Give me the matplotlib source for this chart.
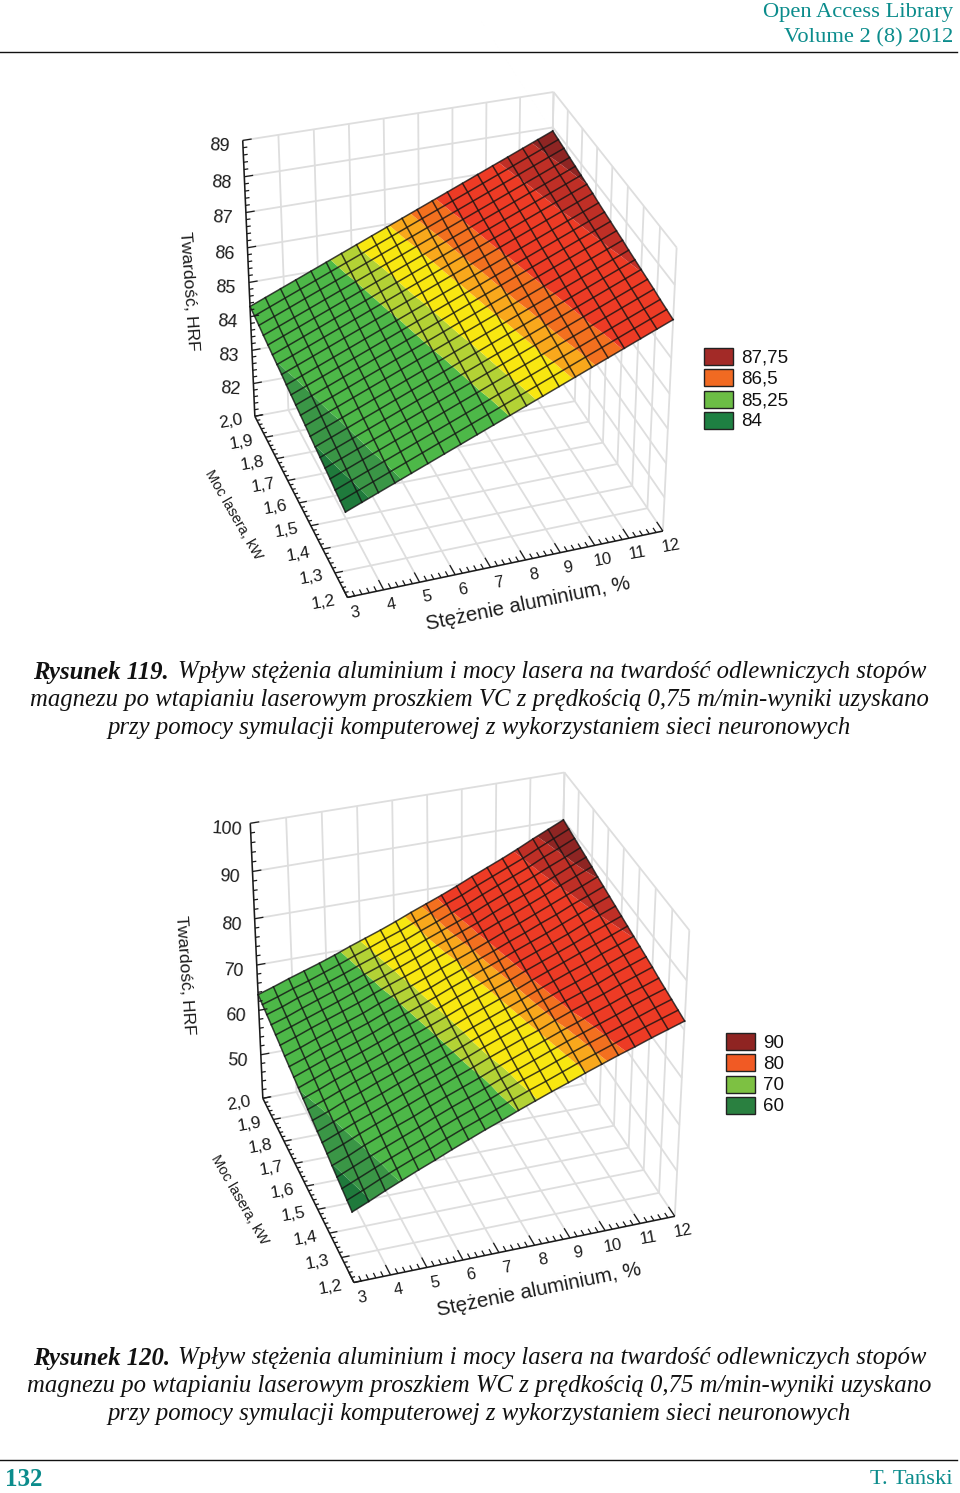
import numpy as np
import matplotlib
matplotlib.use('Agg')
import matplotlib.pyplot as plt
from matplotlib.patches import Rectangle

# mesh nodes of both surfaces
x_nodes = [3, 3.45, 3.9, 4.35, 4.8, 5.25, 5.7, 6.15, 6.6, 7.05, 7.5, 7.95, 8.4, 8.85, 9.3, 9.75, 10.2, 10.65, 11.1, 11.55, 12]
y_nodes = [2.0, 1.96, 1.92, 1.88, 1.84, 1.8, 1.76, 1.72, 1.68, 1.64, 1.6, 1.56, 1.52, 1.48, 1.44, 1.4, 1.36, 1.32, 1.28, 1.24, 1.2]

x_ticks = [3, 4, 5, 6, 7, 8, 9, 10, 11, 12]
y_ticks = [2.0, 1.9, 1.8, 1.7, 1.6, 1.5, 1.4, 1.3, 1.2]

z1_ticks = [82, 83, 84, 85, 86, 87, 88, 89]
z2_ticks = [50, 60, 70, 80, 90, 100]

# Rysunek 119 - hardness read at the mesh nodes
z1 = [
 [84.30,84.48,84.66,84.84,85.02,85.20,85.38,85.56,85.74,85.92,86.10,86.28,86.46,86.64,86.82,87.00,87.18,87.36,87.54,87.72,87.90],
 [84.26,84.44,84.62,84.80,84.98,85.16,85.34,85.52,85.70,85.88,86.06,86.24,86.42,86.60,86.78,86.96,87.14,87.32,87.50,87.68,87.86],
 [84.22,84.40,84.58,84.76,84.94,85.12,85.30,85.48,85.66,85.84,86.02,86.20,86.38,86.56,86.74,86.92,87.10,87.28,87.46,87.64,87.82],
 [84.17,84.35,84.53,84.71,84.89,85.07,85.25,85.43,85.61,85.79,85.97,86.15,86.33,86.51,86.69,86.87,87.05,87.23,87.41,87.59,87.77],
 [84.13,84.31,84.49,84.67,84.85,85.03,85.21,85.39,85.57,85.75,85.93,86.11,86.29,86.47,86.65,86.83,87.01,87.19,87.37,87.55,87.73],
 [84.09,84.27,84.45,84.63,84.81,84.99,85.17,85.35,85.53,85.71,85.89,86.07,86.25,86.43,86.61,86.79,86.97,87.15,87.33,87.51,87.69],
 [84.05,84.23,84.41,84.59,84.77,84.95,85.13,85.31,85.49,85.67,85.85,86.03,86.21,86.39,86.57,86.75,86.93,87.11,87.29,87.47,87.65],
 [84.01,84.19,84.37,84.55,84.73,84.91,85.09,85.27,85.45,85.63,85.81,85.99,86.17,86.35,86.53,86.71,86.89,87.07,87.25,87.43,87.61],
 [83.96,84.14,84.32,84.50,84.68,84.86,85.04,85.22,85.40,85.58,85.76,85.94,86.12,86.30,86.48,86.66,86.84,87.02,87.20,87.38,87.56],
 [83.92,84.10,84.28,84.46,84.64,84.82,85.00,85.18,85.36,85.54,85.72,85.90,86.08,86.26,86.44,86.62,86.80,86.98,87.16,87.34,87.52],
 [83.88,84.06,84.24,84.42,84.60,84.78,84.96,85.14,85.32,85.50,85.68,85.86,86.04,86.22,86.40,86.58,86.76,86.94,87.12,87.30,87.48],
 [83.84,84.02,84.20,84.38,84.56,84.74,84.92,85.10,85.28,85.46,85.64,85.82,86.00,86.18,86.36,86.54,86.72,86.90,87.08,87.26,87.44],
 [83.80,83.98,84.16,84.34,84.52,84.70,84.88,85.06,85.24,85.42,85.60,85.78,85.96,86.14,86.32,86.50,86.68,86.86,87.04,87.22,87.40],
 [83.75,83.93,84.11,84.29,84.47,84.65,84.83,85.01,85.19,85.37,85.55,85.73,85.91,86.09,86.27,86.45,86.63,86.81,86.99,87.17,87.35],
 [83.71,83.89,84.07,84.25,84.43,84.61,84.79,84.97,85.15,85.33,85.51,85.69,85.87,86.05,86.23,86.41,86.59,86.77,86.95,87.13,87.31],
 [83.67,83.85,84.03,84.21,84.39,84.57,84.75,84.93,85.11,85.29,85.47,85.65,85.83,86.01,86.19,86.37,86.55,86.73,86.91,87.09,87.27],
 [83.63,83.81,83.99,84.17,84.35,84.53,84.71,84.89,85.07,85.25,85.43,85.61,85.79,85.97,86.15,86.33,86.51,86.69,86.87,87.05,87.23],
 [83.59,83.77,83.95,84.13,84.31,84.49,84.67,84.85,85.03,85.21,85.39,85.57,85.75,85.93,86.11,86.29,86.47,86.65,86.83,87.01,87.19],
 [83.54,83.72,83.90,84.08,84.26,84.44,84.62,84.80,84.98,85.16,85.34,85.52,85.70,85.88,86.06,86.24,86.42,86.60,86.78,86.96,87.14],
 [83.50,83.68,83.86,84.04,84.22,84.40,84.58,84.76,84.94,85.12,85.30,85.48,85.66,85.84,86.02,86.20,86.38,86.56,86.74,86.92,87.10],
 [83.46,83.64,83.82,84.00,84.18,84.36,84.54,84.72,84.90,85.08,85.26,85.44,85.62,85.80,85.98,86.16,86.34,86.52,86.70,86.88,87.06],
]

# Rysunek 120
z2 = [
 [63.5,64.6,65.8,66.9,68.0,69.2,70.5,71.7,72.9,74.2,75.6,76.9,78.2,79.6,81.1,82.5,83.9,85.4,87.0,88.5,90.0],
 [63.1,64.2,65.4,66.5,67.7,68.9,70.2,71.4,72.7,73.9,75.3,76.6,78.0,79.3,80.8,82.2,83.6,85.0,86.6,88.1,89.6],
 [62.7,63.8,65.1,66.2,67.4,68.6,69.9,71.1,72.4,73.6,75.0,76.3,77.7,79.0,80.5,81.9,83.3,84.7,86.3,87.7,89.2],
 [62.3,63.4,64.7,65.9,67.1,68.3,69.6,70.8,72.1,73.4,74.8,76.1,77.4,78.7,80.2,81.6,83.0,84.4,85.9,87.3,88.8],
 [61.9,63.1,64.3,65.5,66.7,68.0,69.3,70.5,71.8,73.1,74.5,75.8,77.1,78.4,79.9,81.3,82.6,84.0,85.5,87.0,88.4],
 [61.5,62.7,64.0,65.2,66.4,67.6,69.0,70.3,71.5,72.8,74.2,75.5,76.8,78.2,79.6,80.9,82.3,83.7,85.2,86.6,88.0],
 [61.0,62.2,63.5,64.8,66.0,67.2,68.6,69.9,71.1,72.4,73.8,75.1,76.4,77.8,79.2,80.5,81.9,83.3,84.7,86.1,87.5],
 [60.6,61.8,63.2,64.4,65.7,66.9,68.3,69.6,70.9,72.1,73.5,74.8,76.2,77.5,78.9,80.2,81.6,82.9,84.4,85.7,87.1],
 [60.2,61.5,62.8,64.1,65.3,66.6,68.0,69.3,70.6,71.9,73.3,74.6,75.9,77.2,78.6,79.9,81.2,82.6,84.0,85.4,86.7],
 [59.8,61.1,62.5,63.7,65.0,66.3,67.7,69.0,70.3,71.6,73.0,74.3,75.6,76.9,78.3,79.6,80.9,82.2,83.7,85.0,86.3],
 [59.4,60.7,62.1,63.4,64.7,66.0,67.4,68.7,70.0,71.3,72.7,74.0,75.3,76.6,78.0,79.3,80.6,81.9,83.3,84.6,85.9],
 [59.0,60.3,61.7,63.1,64.4,65.7,67.1,68.4,69.7,71.0,72.4,73.7,75.0,76.3,77.7,79.0,80.3,81.6,82.9,84.2,85.5],
 [58.6,59.9,61.4,62.7,64.1,65.4,66.8,68.1,69.4,70.7,72.1,73.4,74.7,76.0,77.4,78.7,80.0,81.2,82.6,83.8,85.1],
 [58.2,59.6,61.0,62.4,63.7,65.1,66.5,67.8,69.1,70.5,71.9,73.2,74.4,75.7,77.1,78.4,79.6,80.9,82.2,83.5,84.7],
 [57.8,59.2,60.7,62.0,63.4,64.8,66.2,67.5,68.9,70.2,71.6,72.9,74.2,75.4,76.8,78.1,79.3,80.5,81.9,83.1,84.3],
 [57.4,58.8,60.3,61.7,63.1,64.5,65.9,67.2,68.6,69.9,71.3,72.6,73.9,75.1,76.5,77.8,79.0,80.2,81.5,82.7,83.9],
 [56.9,58.3,59.9,61.3,62.7,64.0,65.5,66.9,68.2,69.5,70.9,72.2,73.5,74.8,76.1,77.3,78.6,79.8,81.1,82.2,83.4],
 [56.5,58.0,59.5,60.9,62.3,63.7,65.2,66.6,67.9,69.2,70.6,71.9,73.2,74.5,75.8,77.0,78.2,79.4,80.7,81.9,83.0],
 [56.1,57.6,59.1,60.6,62.0,63.4,64.9,66.3,67.6,69.0,70.4,71.7,72.9,74.2,75.5,76.7,77.9,79.1,80.3,81.5,82.6],
 [55.7,57.2,58.8,60.3,61.7,63.1,64.6,66.0,67.3,68.7,70.1,71.4,72.6,73.9,75.2,76.4,77.6,78.8,80.0,81.1,82.2],
 [55.3,56.8,58.4,59.9,61.4,62.8,64.3,65.7,67.1,68.4,69.8,71.1,72.4,73.6,74.9,76.1,77.3,78.4,79.6,80.7,81.8],
]

# colour bands of the surfaces
z1_levels = [83, 83.72, 84.07, 85.25, 85.55, 85.95, 86.2, 86.5, 87.25, 87.65, 88.5]
z2_levels = [50, 57, 59.7, 69.7, 71.3, 75, 76.5, 77.8, 85, 87.4, 95]
band_colors = ['#1f7a3c', '#3a9646', '#4db848', '#b3d235', '#f8e711', '#f9a81c',
               '#f3701f', '#ed3b25', '#bf2f26', '#8e2523']

legend1_labels = ['87,75', '86,5', '85,25', '84']
legend1_colors = ['#a32a27', '#f16a22', '#6cbd45', '#1e8042']
legend2_labels = ['90', '80', '70', '60']
legend2_colors = ['#8f2422', '#f15a24', '#7dc142', '#2a8040']

# box corners on the page: (x, y, z share of height) -> pixel, used to fit the camera
corners1 = [(0, 1, 1, 243, 140), (0, 1, 0, 255, 417), (0, 0, 0, 347, 597), (1, 0, 0, 663, 531),
            (1, 0, 1, 677, 248), (1, 1, 1, 553, 92), (1, 1, 0, 548, 361)]
corners2 = [(0, 1, 1, 250, 823), (0, 1, 0, 263, 1099), (0, 0, 0, 354, 1282), (1, 0, 0, 675, 1217),
            (1, 0, 1, 689, 930), (1, 1, 1, 565, 773), (1, 1, 0, 558, 1042)]


def fit_camera(corners):
    A, b = [], []
    for u, v, w, px, py in corners:
        A.append([u, v, w, 1, 0, 0, 0, 0, -px*u, -px*v, -px*w])
        A.append([0, 0, 0, 0, u, v, w, 1, -py*u, -py*v, -py*w])
        b += [px, py]
    p = np.linalg.lstsq(np.array(A, float), np.array(b, float), rcond=None)[0]
    return np.append(p, 1).reshape(3, 4)


def draw_chart(ax, corners, z, z_ticks, z_min, z_max, z_minor, levels, leg_labels, leg_colors, leg_x, leg_y, lab):
    P = fit_camera(corners)

    def proj(x, y, zz):
        x, y, zz = np.broadcast_arrays(np.asarray(x, float), np.asarray(y, float), np.asarray(zz, float))
        u = (x - 3) / 9
        v = (y - 1.2) / 0.8
        w = (zz - z_min) / (z_max - z_min)
        d = P[2, 0]*u + P[2, 1]*v + P[2, 2]*w + P[2, 3]
        px = (P[0, 0]*u + P[0, 1]*v + P[0, 2]*w + P[0, 3]) / d
        py = (P[1, 0]*u + P[1, 1]*v + P[1, 2]*w + P[1, 3]) / d
        return px, py

    def seg(p0, p1, **kw):
        a = proj(*p0)
        b = proj(*p1)
        ax.plot([a[0], b[0]], [a[1], b[1]], solid_capstyle='butt', **kw)

    grid = dict(color='#dedede', lw=1.3, zorder=1)
    # walls and floor
    for xt in x_ticks:
        seg((xt, 2.0, z_min), (xt, 2.0, z_max), **grid)
        seg((xt, 1.2, z_min), (xt, 2.0, z_min), **grid)
    for yt in y_ticks:
        seg((12, yt, z_min), (12, yt, z_max), **grid)
        seg((3, yt, z_min), (12, yt, z_min), **grid)
    for zt in z_ticks:
        seg((3, 2.0, zt), (12, 2.0, zt), **grid)
        seg((12, 2.0, zt), (12, 1.2, zt), **grid)

    # surface with contour bands and mesh
    X, Y = np.meshgrid(x_nodes, y_nodes)
    Z = np.array(z)
    PX, PY = proj(X, Y, Z)
    ax.contourf(PX, PY, Z, levels=levels, colors=band_colors, zorder=2, antialiased=True)
    mesh = dict(color='#141414', lw=1.1, alpha=0.8, zorder=3)
    for i in range(PX.shape[0]):
        ax.plot(PX[i], PY[i], **mesh)
    for j in range(PX.shape[1]):
        ax.plot(PX[:, j], PY[:, j], **mesh)

    # black axes with ticks
    line = dict(color='#1a1a1a', lw=1.1, zorder=4)
    seg((3, 2.0, z_min), (3, 2.0, z_max), **line)
    seg((3, 1.2, z_min), (3, 2.0, z_min), **line)
    seg((3, 1.2, z_min), (12, 1.2, z_min), **line)
    tick = dict(color='#1a1a1a', lw=0.9, zorder=4)
    for zt in np.arange(z_min, z_max + 1e-6, z_minor):
        is_major = abs(zt / (z_minor * 5) - round(zt / (z_minor * 5))) < 1e-6
        seg((3, 2.0, zt), (3.25 if is_major else 3.12, 2.0, zt), **tick)
    for k in range(41):
        yt = 1.2 + k * 0.02
        seg((3, yt, z_min), (3.22 if k % 5 == 0 else 3.1, yt, z_min), **tick)
    for k in range(46):
        xt = 3 + k * 0.2
        seg((xt, 1.2, z_min), (xt, 1.24 if k % 5 == 0 else 1.22, z_min), **tick)

    # tick labels
    lf = dict(family='Liberation Sans', color='#1c1c1c', ha='center', va='center', zorder=5)
    for zt in z_ticks:
        px, py = proj(3, 2.0, zt)
        ax.text(px - 23, py + 6, str(zt), rotation=-4, fontsize=13, **lf)
    for yt in y_ticks:
        px, py = proj(3, yt, z_min)
        ax.text(px - 24, py + 5, f'{yt:.1f}'.replace('.', ','), rotation=10, fontsize=12.5, **lf)
    for xt in x_ticks:
        px, py = proj(xt, 1.2, z_min)
        ax.text(px + 8, py + 15, str(xt), rotation=10, fontsize=12, **lf)

    # axis titles
    tf = dict(family='Liberation Sans', color='#1c1c1c', ha='center', va='center', rotation_mode='anchor')
    ax.text(lab['x'][0], lab['x'][1], 'Stężenie aluminium, %', fontsize=14.8, rotation=lab['x'][2], **tf)
    ax.text(lab['y'][0], lab['y'][1], 'Moc lasera, kW', fontsize=10.5, rotation=lab['y'][2], **tf)
    ax.text(lab['z'][0], lab['z'][1], 'Twardość, HRF', fontsize=12.5, rotation=lab['z'][2], **tf)

    # legend
    for k, (txt, col) in enumerate(zip(leg_labels, leg_colors)):
        yy = leg_y + k * 21.3
        ax.add_patch(Rectangle((leg_x, yy), 29, 17, facecolor=col, edgecolor='#222222', lw=1.0, zorder=4))
        ax.text(leg_x + 37, yy + 10, txt, fontsize=13.5, family='Liberation Sans', color='#111111', va='center', ha='left')


fig = plt.figure(figsize=(9.6, 14.93), dpi=100)
ax = fig.add_axes([0, 0, 1, 1])
ax.set_xlim(0, 960)
ax.set_ylim(1493, 0)
ax.axis('off')

draw_chart(ax, corners1, z1, z1_ticks, 81, 89, 0.2, z1_levels, legend1_labels, legend1_colors, 704, 348,
           dict(x=(528, 604, 11.5), y=(233, 515, -60), z=(189, 291, -86)))
draw_chart(ax, corners2, z2, z2_ticks, 40, 100, 2, z2_levels, legend2_labels, legend2_colors, 726, 1033,
           dict(x=(539, 1290, 11.5), y=(239, 1200, -60), z=(185, 975, -86)))

# page text
teal = '#0b8c8c'
serif = 'Liberation Serif'
ax.text(953, 13, 'Open Access Library', fontsize=16.2, family=serif, color=teal, ha='right', va='center')
ax.text(953, 38, 'Volume 2 (8) 2012', fontsize=16.2, family=serif, color=teal, ha='right', va='center')
ax.plot([0, 957], [51.5, 51.5], color='#111111', lw=1.0)

cap = dict(fontsize=17.8, family=serif, style='italic', color='#111111', va='center')
for y0, num, line2 in [(672, '119', 'magnezu po wtapianiu laserowym proszkiem VC z prędkością 0,75 m/min-wyniki uzyskano'),
                       (1358, '120', 'magnezu po wtapianiu laserowym proszkiem WC z prędkością 0,75 m/min-wyniki uzyskano')]:
    ax.text(33, y0, f'Rysunek {num}.', fontweight='bold', ha='left', **cap)
    ax.text(178, y0, 'Wpływ stężenia aluminium i mocy lasera na twardość odlewniczych stopów', ha='left', **cap)
    ax.text(479, y0 + 28, line2, ha='center', **cap)
    ax.text(479, y0 + 56, 'przy pomocy symulacji komputerowej z wykorzystaniem sieci neuronowych', ha='center', **cap)

ax.plot([0, 957], [1460, 1460], color='#111111', lw=1.0)
ax.text(5, 1480, '132', fontsize=18, family=serif, fontweight='bold', color=teal, ha='left', va='center')
ax.text(953, 1480, 'T. Tański', fontsize=16.2, family=serif, color=teal, ha='right', va='center')

fig.savefig('out.png', dpi=100)
